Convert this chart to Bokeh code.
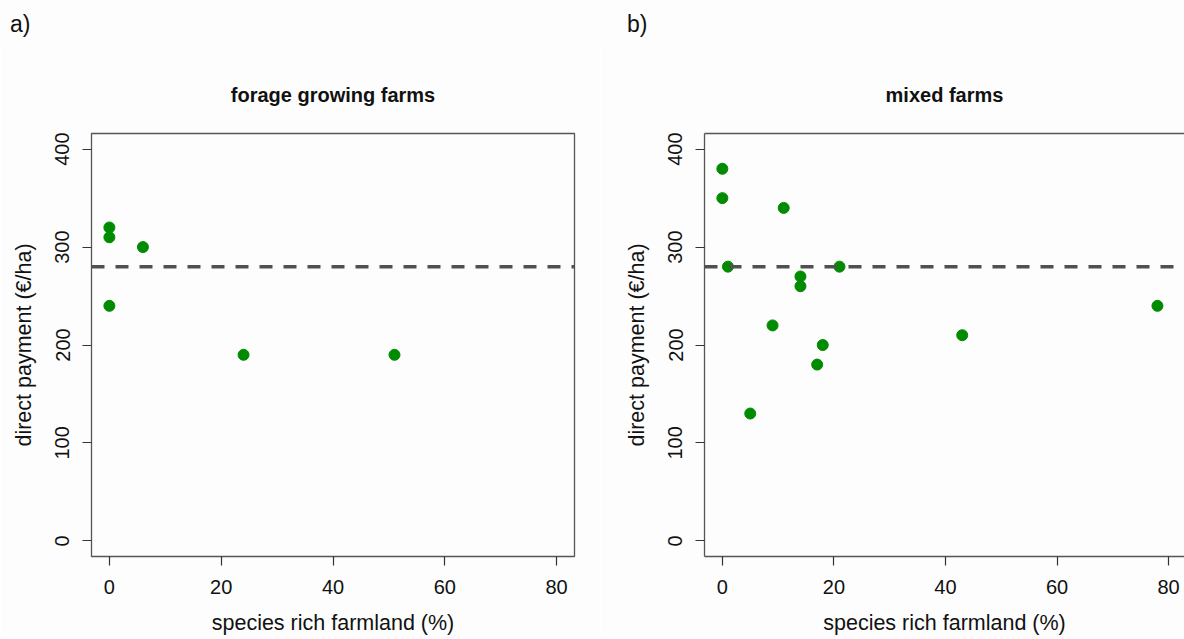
from bokeh.plotting import figure
from bokeh.layouts import row, column
from bokeh.models import Range1d, Span, FixedTicker, LinearAxis, Div
from bokeh.embed import file_html
from bokeh.resources import INLINE

# ---- data ----
forage_x = [0, 0, 0, 6, 24, 51]
forage_y = [320, 310, 240, 300, 190, 190]
mixed_x = [0, 0, 11, 1, 14, 14, 21, 9, 18, 17, 43, 78, 5]
mixed_y = [380, 350, 340, 280, 270, 260, 280, 220, 200, 180, 210, 240, 130]
reference_payment = 280
x_ticks = [0, 20, 40, 60, 80]
y_ticks = [0, 100, 200, 300, 400]
panel_titles = ["forage growing farms", "mixed farms"]
panel_letters = ["a)", "b)"]
x_label = "species rich farmland (%)"
y_label = "direct payment (\u20ac/ha)"

FONT = "Liberation Sans"
GREEN = "#008B00"
FRAME = "#555555"
TICK = "#333333"
TXT = "#111111"
BG = "#fdfdfd"

HEAD = 45  # height of the strip holding the panel letters


def make_panel(xs, ys, name, width, left, right, x_end, clip_right):
    p = figure(width=width, height=639 - HEAD, output_backend="svg", toolbar_location=None,
               x_range=Range1d(-3.2, x_end), y_range=Range1d(-16, 416),
               min_border_left=left, min_border_right=right,
               min_border_top=133 - HEAD, min_border_bottom=83)
    p.background_fill_color = BG
    p.border_fill_color = BG
    p.grid.visible = False

    p.title.text = name
    p.title.text_font = FONT
    p.title.text_font_size = "20px"
    p.title.text_font_style = "bold"
    p.title.text_color = TXT
    p.title.align = "center"
    p.title.vertical_align = "bottom"
    p.title.standoff = 56

    xa = p.below[0]
    ya = p.left[0]
    xa.axis_label = x_label
    ya.axis_label = y_label

    for ax in (xa, ya):
        ax.axis_line_color = FRAME if clip_right else None
        ax.axis_line_width = 1.3
        ax.major_tick_out = 9
        ax.major_tick_in = 0
        ax.minor_tick_out = 0
        ax.minor_tick_in = 0
        ax.major_tick_line_color = TICK
        ax.major_tick_line_width = 1.2
        ax.major_label_text_font = FONT
        ax.major_label_text_font_size = "20px"
        ax.major_label_text_color = TXT
        ax.axis_label_text_font = FONT
        ax.axis_label_text_font_size = "21.5px"
        ax.axis_label_text_font_style = "normal"
        ax.axis_label_text_color = TXT

    xa.ticker = FixedTicker(ticks=x_ticks)
    ya.ticker = FixedTicker(ticks=y_ticks)
    xa.major_label_standoff = 14
    xa.axis_label_standoff = 14
    ya.major_label_orientation = "vertical"
    ya.major_label_standoff = 13
    ya.axis_label_standoff = 17

    if clip_right:
        p.outline_line_color = None
        top = LinearAxis(ticker=FixedTicker(ticks=[]), major_label_text_font_size="0px",
                         axis_line_color=FRAME, axis_line_width=1.3,
                         major_tick_out=0, major_tick_in=0, minor_tick_out=0, minor_tick_in=0,
                         major_label_standoff=0)
        p.add_layout(top, "above")
    else:
        p.outline_line_color = FRAME
        p.outline_line_width = 1.3

    p.add_layout(Span(location=reference_payment, dimension="width",
                      line_color="#505050", line_width=3.5, line_dash="13 11"))
    p.scatter(xs, ys, size=11, color=GREEN, line_color=GREEN)
    return p


p1 = make_panel(forage_x, forage_y, panel_titles[0],
                width=600, left=91, right=26, x_end=83.2, clip_right=False)
p2 = make_panel(mixed_x, mixed_y, panel_titles[1],
                width=584, left=104, right=0, x_end=82.85, clip_right=True)

span_css = ("position:absolute;top:13px;line-height:23px;font-family:'Liberation Sans';"
            "font-size:23px;color:#111111;white-space:nowrap;")
head_html = (
    '<div style="position:relative;width:1184px;height:%dpx;">' % HEAD
    + '<span style="%sleft:10px;">%s</span>' % (span_css, panel_letters[0])
    + '<span style="%sleft:627px;">%s</span>' % (span_css, panel_letters[1])
    + '</div>'
)
head = Div(text=head_html, width=1184, height=HEAD, margin=(0, 0, 0, 0),
           styles={"background-color": BG})

layout = column(head, row(p1, p2), spacing=0)
open("out.html", "w").write(file_html(layout, INLINE))
